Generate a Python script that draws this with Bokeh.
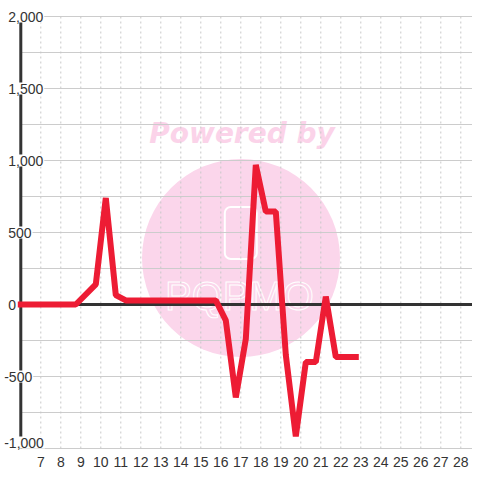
from bokeh.plotting import figure
from bokeh.models import Range1d
from bokeh.core.properties import value
from bokeh.embed import file_html
from bokeh.resources import INLINE

# ---- data ----
days = [6.0, 8.75, 9.75, 10.25, 10.75, 11.25, 15.75, 16.25, 16.75, 17.25,
        17.75, 18.25, 18.75, 19.25, 19.75, 20.25, 20.75, 21.25, 21.75, 22.75]
values = [0, 0, 140, 740, 65, 28, 28, -110, -645, -240,
          970, 645, 645, -350, -915, -400, -400, 55, -365, -365]

x_ticks = list(range(7, 29))
x_tick_labels = [str(t) for t in x_ticks]
y_ticks_pos = [2000, 1500, 1000, 500, 0]
y_labels_pos = ["2,000", "1,500", "1,000", "500", "0"]
y_ticks_neg = [-500]
y_labels_neg = ["-500"]
y_bottom_tick = [-1000]
y_bottom_label = ["-1,000"]
y_grid = list(range(-1000, 2001, 250))
x_axis_origin = 6
y_min, y_max = -1000, 2000

# ---- geometry (figure pixel = reference pixel) ----
W = H = 472
PX_X = 20.0            # pixels per day
PX_Y = 72.0 / 500.0    # pixels per unit
X0 = x_axis_origin - 20.3 / PX_X
X1 = X0 + W / PX_X
Y1 = y_max + 16 / PX_Y
Y0 = Y1 - H / PX_Y


def to_x(px):   # pixel -> data x (decorations only)
    return X0 + px / PX_X


def to_y(py):
    return Y1 - py / PX_Y


p = figure(width=W, height=H, x_range=Range1d(X0, X1), y_range=Range1d(Y0, Y1),
           x_axis_type=None, y_axis_type=None, toolbar_location=None,
           output_backend="svg", min_border=0, outline_line_color=None,
           background_fill_color="white", border_fill_color="white")

FONT = value("Liberation Sans")
LABEL_COLOR = "#333333"
PINK = "#FBD6EB"

# ---- watermark ----
p.scatter(x=[to_x(240.5)], y=[to_y(257.5)], size=198, marker="circle",
          fill_color=PINK, line_color=None)
p.text(x=[to_x(241.5)], y=[to_y(133)], text=["Powered by"],
       text_font=value("DejaVu Sans"), text_font_style="bold italic",
       text_font_size="28px", text_color="#FBD3E9",
       text_align="center", text_baseline="alphabetic")
p.rect(x=[to_x(240.3)], y=[to_y(232.5)], width=32, height=52,
       width_units="screen", height_units="screen",
       fill_color=None, line_color="white", line_width=2, border_radius=6)
p.text(x=[to_x(239)], y=[to_y(295)], text=["PQPMO"], text_font=FONT,
       text_font_size="40px", text_color=PINK, text_outline_color="white",
       text_align="center", text_baseline="alphabetic")

# ---- grid ----
p.segment(x0=[x_axis_origin] * len(y_grid), x1=[X1] * len(y_grid),
          y0=y_grid, y1=y_grid, line_color="#cccccc", line_width=1)
p.segment(x0=x_ticks, x1=x_ticks, y0=[y_min] * len(x_ticks), y1=[y_max] * len(x_ticks),
          line_color="#c8c8c8", line_width=1, line_dash="2 3")

# zero line and y axis line
p.segment(x0=[x_axis_origin], x1=[X1], y0=[0], y1=[0], line_color="#333333", line_width=3)
p.segment(x0=[x_axis_origin], x1=[x_axis_origin], y0=[y_min], y1=[y_max],
          line_color="#333333", line_width=3)

# ---- series ----
p.line(days, values, line_color="#ED1C34", line_width=6,
       line_join="bevel", line_cap="square")

# ---- tick labels ----
label_style = dict(text_font=FONT, text_font_size="14px", text_color=LABEL_COLOR,
                   text_align="left", text_baseline="middle",
                   background_fill_color="white", padding=1)
p.text(x=[X0] * len(y_ticks_pos), y=y_ticks_pos, text=y_labels_pos,
       x_offset=6.7, y_offset=0, **label_style)
p.text(x=[X0] * len(y_ticks_neg), y=y_ticks_neg, text=y_labels_neg,
       x_offset=2.7, y_offset=0, **label_style)
p.text(x=[X0], y=y_bottom_tick, text=y_bottom_label,
       x_offset=2.7, y_offset=-6, **label_style)
p.text(x=x_ticks, y=[to_y(461)] * len(x_ticks), text=x_tick_labels, text_font=FONT,
       text_font_size="14px", text_color=LABEL_COLOR, text_align="center",
       text_baseline="middle")

open("out.html", "w").write(file_html(p, INLINE))
